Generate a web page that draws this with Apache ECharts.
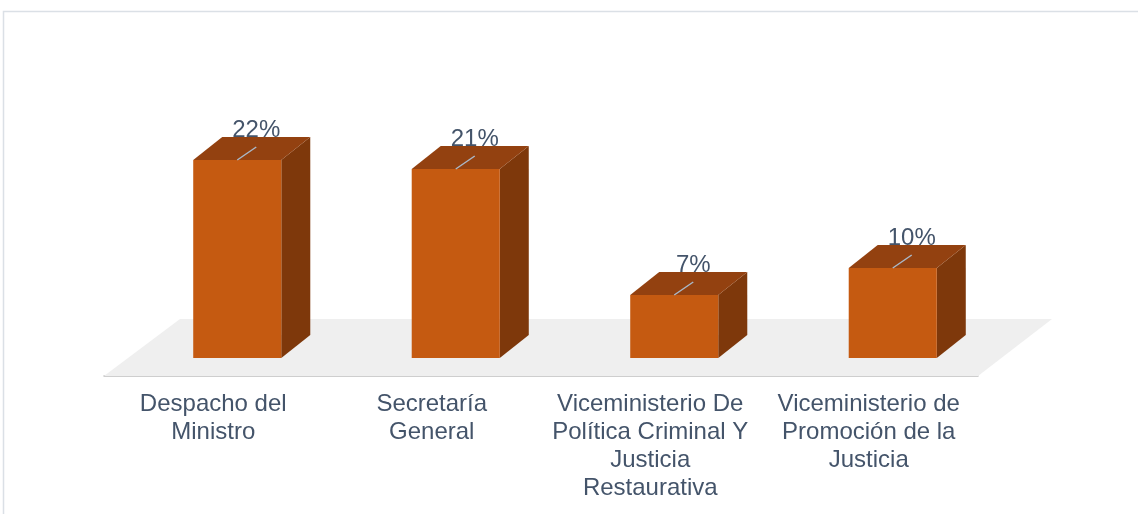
<!DOCTYPE html>
<html>
<head>
    <meta charset="UTF-8">
    <title>Distribución por dependencia</title>
    <script src="https://cdn.jsdelivr.net/npm/echarts@6/dist/echarts.min.js"></script>
    <style>
        html, body { margin: 0; padding: 0; background: #fff; }
        #chart { width: 1138px; height: 514px; }
    </style>
</head>
<body>
    <div id="chart"></div>

    <script>
        const categories = [
            'Despacho del\nMinistro',
            'Secretaría\nGeneral',
            'Viceministerio De\nPolítica Criminal Y\nJusticia\nRestaurativa',
            'Viceministerio de\nPromoción de la\nJusticia'
        ];
        const values = [22, 21, 7, 10];

        const textColor = '#44546a';
        const frontColor = '#c55a11';
        const topColor = '#934110';
        const sideColor = '#7e380b';

        // depth of the boxes and of the floor (screen offsets)
        const barDx = 29, barDy = -23;

        const chart = echarts.init(document.getElementById('chart'));

        function renderFloor(params, api) {
            const cs = params.coordSys;
            const base = cs.y + cs.height;
            return {
                type: 'polygon',
                shape: {
                    points: [
                        [cs.x - 24, base + 18],
                        [cs.x + cs.width - 24, base + 18],
                        [cs.x + cs.width + 50, base - 39],
                        [cs.x + 52, base - 39]
                    ]
                },
                style: { fill: '#efefef' },
                silent: true
            };
        }

        function renderBox(params, api) {
            const i = api.value(0);
            const v = api.value(1);
            const base = api.coord([i, 0]);
            const top = api.coord([i, v]);
            const bw = api.size([1, 0])[0] * 0.403;
            const x0 = base[0] - bw / 2, x1 = base[0] + bw / 2;
            const yb = base[1], yt = top[1];
            const cx = base[0];
            return {
                type: 'group',
                children: [
                    {
                        type: 'polygon',
                        shape: { points: [[x1, yt], [x1 + barDx, yt + barDy], [x1 + barDx, yb + barDy], [x1, yb]] },
                        style: { fill: sideColor }
                    },
                    {
                        type: 'polygon',
                        shape: { points: [[x0, yt], [x1, yt], [x1 + barDx, yt + barDy], [x0 + barDx, yt + barDy]] },
                        style: { fill: topColor }
                    },
                    {
                        type: 'rect',
                        shape: { x: x0, y: yt, width: bw, height: yb - yt },
                        style: { fill: frontColor }
                    },
                    {
                        type: 'line',
                        shape: { x1: cx, y1: yt, x2: cx + 19, y2: yt - 13 },
                        style: { stroke: '#a9b8c8', lineWidth: 1.5 }
                    },
                    {
                        type: 'text',
                        x: cx + 19,
                        y: yt - 30,
                        style: {
                            text: api.value(1) + '%',
                            fill: textColor,
                            font: '24px "Liberation Sans", Arial, sans-serif',
                            align: 'center',
                            verticalAlign: 'middle'
                        }
                    }
                ]
            };
        }

        const option = {
            backgroundColor: '#fff',
            animation: false,
            graphic: [{
                type: 'rect',
                shape: { x: 3.5, y: 11.5, width: 1200, height: 600 },
                style: { fill: 'none', stroke: '#dbe0e6', lineWidth: 1.5 },
                silent: true
            }],
            grid: [
                { left: 128, right: 136, top: 133, bottom: 156 },
                { left: 104, right: 160, top: 133, bottom: 138 }
            ],
            xAxis: [
                {
                    gridIndex: 0, type: 'category', data: categories,
                    show: false
                },
                {
                    gridIndex: 1, type: 'category', data: categories,
                    axisLine: { show: true, lineStyle: { color: '#bfbfbf', width: 1.5 } },
                    axisTick: { show: false },
                    axisLabel: {
                        interval: 0,
                        margin: 14,
                        color: textColor,
                        fontSize: 24,
                        lineHeight: 28,
                        fontFamily: '"Liberation Sans", Arial, sans-serif'
                    }
                }
            ],
            yAxis: [
                { gridIndex: 0, type: 'value', min: 0, max: 25, show: false },
                { gridIndex: 1, type: 'value', min: 0, max: 25, show: false }
            ],
            series: [
                {
                    type: 'custom',
                    xAxisIndex: 0, yAxisIndex: 0,
                    renderItem: renderFloor,
                    data: [[0, 0]],
                    z: 1,
                    silent: true
                },
                {
                    type: 'custom',
                    xAxisIndex: 0, yAxisIndex: 0,
                    renderItem: renderBox,
                    data: values.map((v, i) => [i, v]),
                    z: 3
                }
            ]
        };

        chart.setOption(option);
    </script>
</body>
</html>
